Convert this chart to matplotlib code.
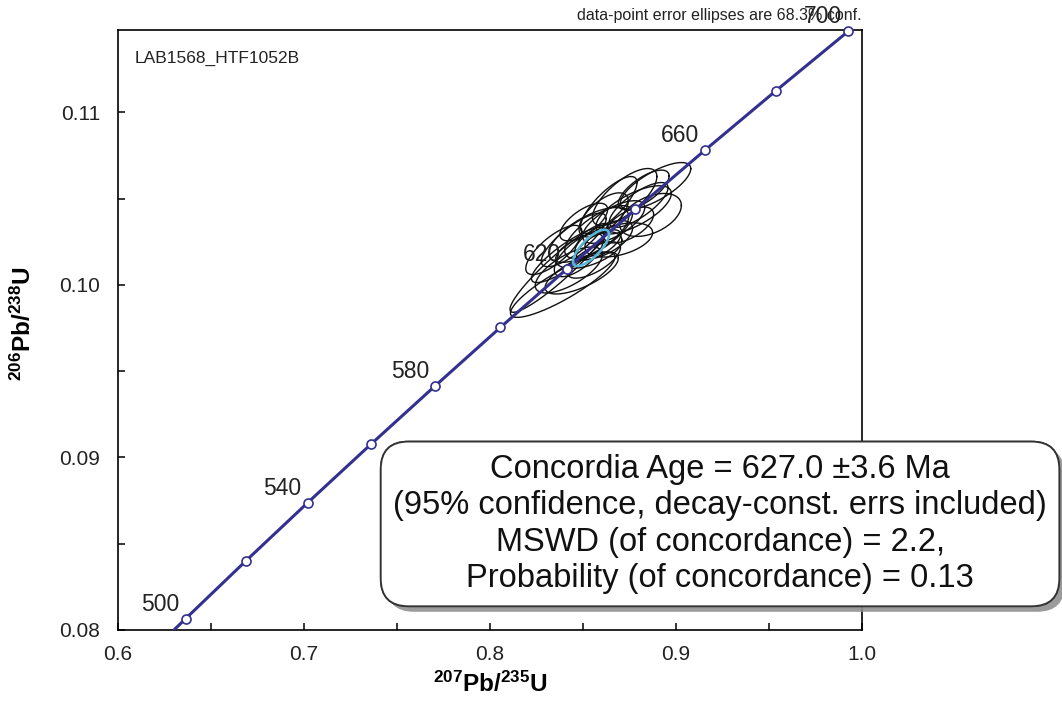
import numpy as np
import matplotlib
matplotlib.use("Agg")
import matplotlib.pyplot as plt
from matplotlib import patheffects
from matplotlib.ticker import MultipleLocator, FormatStrFormatter

plt.rcParams["font.family"] = ["Liberation Sans", "DejaVu Sans"]
plt.rcParams["mathtext.fontset"] = "custom"
plt.rcParams["mathtext.rm"] = "Liberation Sans"
plt.rcParams["mathtext.bf"] = "Liberation Sans:bold"

# concordia curve points (age in Ma, 207Pb/235U, 206Pb/238U)
ages = [480, 500, 520, 540, 560, 580, 600, 620, 640, 660, 680, 700]
conc_x = [0.6043, 0.6363, 0.6688, 0.7020, 0.7359, 0.7704, 0.8056, 0.8415, 0.8782, 0.9155, 0.9536, 0.9925]
conc_y = [0.07730, 0.08065, 0.08401, 0.08738, 0.09076, 0.09414, 0.09754, 0.10095, 0.10438, 0.10781, 0.11125, 0.11470]
label_ages = [500, 540, 580, 620, 660, 700]

# data-point ellipses: centre, half-widths (68.3% conf.), error correlation
ell_x = [0.8890, 0.8724, 0.8863, 0.8493, 0.8391, 0.8370, 0.8584, 0.8665, 0.8531, 0.8611, 0.8450,
         0.8692, 0.8558, 0.8504, 0.8799, 0.8638, 0.8424, 0.8584, 0.8745, 0.8343, 0.8826, 0.8531,
         0.8611, 0.8477, 0.8772, 0.8424]
ell_y = [0.10574, 0.10510, 0.10406, 0.10070, 0.10000, 0.10099, 0.10307, 0.10365, 0.10203, 0.10406, 0.10261,
         0.10261, 0.10145, 0.10365, 0.10464, 0.10464, 0.10174, 0.10232, 0.10348, 0.10203, 0.10551, 0.10290,
         0.10261, 0.10174, 0.10435, 0.10087]
ell_sx = [0.01893, 0.01732, 0.01657, 0.01968, 0.02810, 0.02627, 0.01823, 0.01668, 0.01786, 0.01324, 0.01743,
          0.01823, 0.01432, 0.01282, 0.01582, 0.01523, 0.02011, 0.01190, 0.01346, 0.01507, 0.01367, 0.02145,
          0.01555, 0.01314, 0.02027, 0.01807]
ell_sy = [0.001357, 0.001652, 0.001246, 0.001223, 0.001878, 0.002574, 0.001530, 0.001235, 0.001072, 0.001281, 0.001548,
          0.000991, 0.001055, 0.001090, 0.001299, 0.001646, 0.001600, 0.000881, 0.001043, 0.001426, 0.001148, 0.001588,
          0.001125, 0.001258, 0.001403, 0.001333]
ell_rho = [0.736, 0.718, 0.441, 0.695, 0.868, 0.932, 0.704, 0.673, 0.521, 0.634, 0.800,
           0.430, 0.673, 0.670, 0.769, 0.790, 0.854, 0.673, 0.589, 0.752, 0.703, 0.672,
           0.609, 0.677, 0.682, 0.681]

# concordia age ellipse
age_x, age_y, age_sx, age_sy, age_rho = 0.8543, 0.10215, 0.0097, 0.00105, 0.753

LINE_COL = "#33308f"


def ellipse_xy(cx, cy, sx, sy, rho, n=200):
    t = np.linspace(0, 2 * np.pi, n)
    x = cx + sx * np.cos(t)
    y = cy + sy * (rho * np.cos(t) + np.sqrt(1 - rho ** 2) * np.sin(t))
    return x, y


fig = plt.figure(figsize=(10.62, 7.08), dpi=100)
ax = fig.add_axes([0.1111, 0.1102, 0.7006, 0.8474])

for i in range(len(ell_x)):
    ex, ey = ellipse_xy(ell_x[i], ell_y[i], ell_sx[i], ell_sy[i], ell_rho[i])
    ax.plot(ex, ey, color="#111111", lw=1.0, zorder=2)

ax.plot(conc_x, conc_y, color=LINE_COL, lw=2.2, zorder=3)
mk = [a in range(500, 701) for a in ages]
ax.plot(np.array(conc_x)[mk], np.array(conc_y)[mk], "o", ms=6.5, mfc="white",
        mec=LINE_COL, mew=1.2, zorder=4, clip_on=False)

for a in label_ages:
    i = ages.index(a)
    ax.annotate(str(a), (conc_x[i], conc_y[i]), xytext=(-6, 3), textcoords="offset pixels",
                ha="right", va="bottom", fontsize=16.5, color="#222222", zorder=5,
                annotation_clip=False)

cx, cy = ellipse_xy(age_x, age_y, age_sx, age_sy, age_rho)
ax.plot(cx, cy, color="#58b8dc", lw=1.8, zorder=6)

ax.set_xlim(0.6, 1.0)
ax.set_ylim(0.08, 0.11478)
ax.xaxis.set_major_locator(MultipleLocator(0.1))
ax.xaxis.set_minor_locator(MultipleLocator(0.05))
ax.yaxis.set_major_locator(MultipleLocator(0.01))
ax.yaxis.set_minor_locator(MultipleLocator(0.005))
ax.xaxis.set_major_formatter(FormatStrFormatter("%.1f"))
ax.yaxis.set_major_formatter(FormatStrFormatter("%.2f"))
ax.tick_params(which="both", direction="in", length=5, width=1.1, top=False, right=False,
               colors="black", labelcolor="#222222", labelsize=15)
ax.tick_params(axis="x", which="both", pad=11)
ax.tick_params(axis="y", which="both", pad=13)
for s in ax.spines.values():
    s.set_linewidth(1.2)

ax.set_xlabel(r"$\mathbf{^{207}Pb/^{235}U}$", fontsize=17.5, va="top")
ax.xaxis.set_label_coords(0.5, -0.07)
ax.set_ylabel(r"$\mathbf{^{206}Pb/^{238}U}$", fontsize=17.5)
ax.yaxis.set_label_coords(-0.11, 0.51)

ax.text(0.023, 0.953, "LAB1568_HTF1052B", transform=ax.transAxes, fontsize=12.5,
        ha="left", va="center", color="#222222")
ax.text(1.0, 1.012, "data-point error ellipses are 68.3% conf.", transform=ax.transAxes,
        fontsize=11.5, ha="right", va="bottom", color="#222222")

box_text = ("Concordia Age = 627.0 \u00b13.6 Ma\n"
            "(95% confidence, decay-const. errs included)\n"
            "MSWD (of concordance) = 2.2,\n"
            "Probability (of concordance) = 0.13")
t = fig.text(0.678, 0.260, box_text, fontsize=23.5, ha="center", va="center",
             multialignment="center", linespacing=1.22, color="#111111", zorder=10,
             bbox=dict(boxstyle="round,pad=0.38,rounding_size=0.85", fc="white",
                       ec="#333333", lw=1.3))
t.get_bbox_patch().set_path_effects([
    patheffects.withSimplePatchShadow(offset=(4, -4), shadow_rgbFace="#909090", alpha=0.9),
    patheffects.Normal()])

fig.savefig("out.png", dpi=100)
